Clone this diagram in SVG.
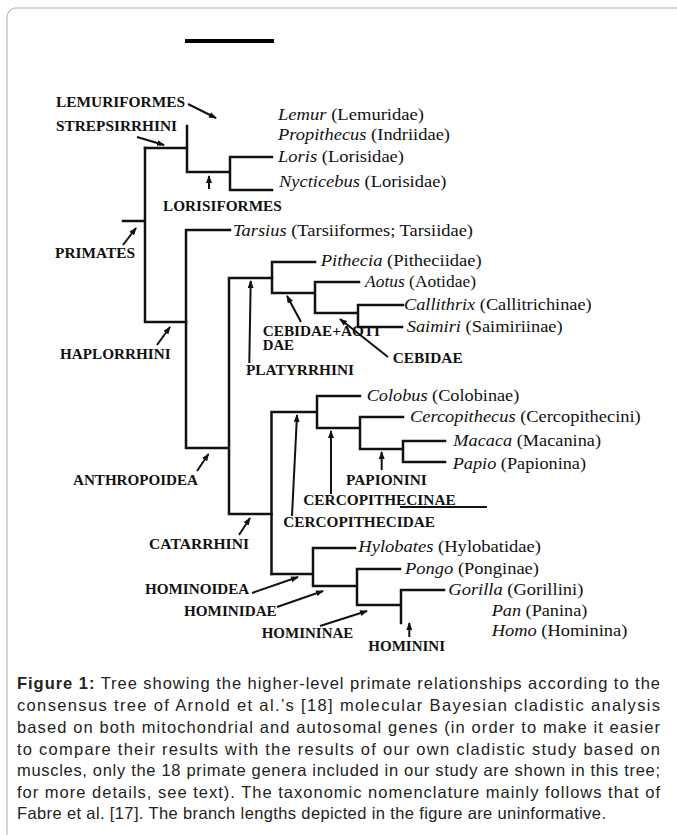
<svg xmlns="http://www.w3.org/2000/svg" width="677" height="835" viewBox="0 0 677 835">
<style>
.frame{fill:#fff;stroke:#c8c8c8;stroke-width:1.5}
.br{fill:none;stroke:#111;stroke-width:2.5;stroke-linecap:square}
.ar{fill:none;stroke:#111;stroke-width:2}
.tx{font-family:"Liberation Serif","Times New Roman",serif;font-size:16.5px;fill:#111}
.lb{font-family:"Liberation Serif","Times New Roman",serif;font-size:14px;font-weight:bold;fill:#111}
.it{font-style:italic}
.cap{font-family:"Liberation Sans",Arial,sans-serif;font-size:16.5px;fill:#222}
</style>
<defs>
<marker id="ah" markerWidth="8" markerHeight="6" refX="7" refY="3" orient="auto" markerUnits="userSpaceOnUse">
<path d="M0,0 L8,3 L0,6 z" fill="#111"/>
</marker>
</defs>
<rect class="frame" x="7" y="8" width="700" height="840" rx="9"/>
<rect x="185" y="39" width="89" height="4" fill="#000"/>
<g id="connectors">
<path class="br" d="M145,148 H187 M187,126 V172 M187,172 H230 M230,157 V190 M230,157 H272 M230,190 H272"/>
<path class="br" d="M123,221 H145 M145,148 V322 M145,322 H186"/>
<path class="br" d="M186,230 V448 M186,230 H230 M186,448 H229 M229,278 V514 M229,278 H272 M229,514 H271.5"/>
<path class="br" d="M272,262 V293 M272,262 H315 M272,293 H315 M315,282 V313 M315,282 H359 M315,313 H358 M358,305 V327 M358,305 H403 M358,327 H402"/>
<path class="br" d="M271.5,412 V574 M271.5,412 H317 M317,396 V428 M317,396 H360 M317,428 H360 M360,417 V449 M360,417 H403 M360,449 H403 M403,441 V462 M403,441 H445 M403,462 H445"/>
<path class="br" d="M271.5,574 H313 M313,548 V586 M313,548 H355 M313,586 H357 M357,569 V605 M357,569 H400 M357,605 H401 M401,590 V623 M401,590 H444"/>
<g marker-end="url(#ah)">
<line class="ar" x1="188" y1="104" x2="216" y2="118"/>
<line class="ar" x1="137" y1="137" x2="164" y2="145"/>
<line class="ar" x1="209" y1="189" x2="209" y2="176"/>
<line class="ar" x1="123" y1="245" x2="136" y2="228"/>
<line class="ar" x1="157" y1="345" x2="170" y2="327"/>
<line class="ar" x1="249.3" y1="363" x2="250.7" y2="281"/>
<line class="ar" x1="301" y1="322" x2="287" y2="296"/>
<line class="ar" x1="388" y1="357" x2="340" y2="319"/>
<line class="ar" x1="197" y1="471" x2="208.5" y2="454"/>
<line class="ar" x1="239" y1="535" x2="250" y2="518"/>
<line class="ar" x1="381.7" y1="470" x2="381.7" y2="452"/>
<line class="ar" x1="331" y1="494" x2="331" y2="431"/>
<line class="ar" x1="292" y1="516" x2="297" y2="415"/>
<line class="ar" x1="252" y1="593" x2="298" y2="577"/>
<line class="ar" x1="277" y1="607" x2="323" y2="591"/>
<line class="ar" x1="320" y1="626" x2="367" y2="611"/>
<line class="ar" x1="409.3" y1="637" x2="409.3" y2="623"/>
</g>
<line class="ar" x1="400" y1="507" x2="487" y2="507"/>
</g>
<g id="lemur"><text class="tx" x="278" y="119.5" textLength="146" lengthAdjust="spacingAndGlyphs"><tspan class="it">Lemur</tspan> (Lemuridae)</text></g>
<g id="propithecus"><text class="tx" x="278" y="139.5" textLength="172" lengthAdjust="spacingAndGlyphs"><tspan class="it">Propithecus</tspan> (Indriidae)</text></g>
<g id="loris"><text class="tx" x="278" y="162" textLength="126" lengthAdjust="spacingAndGlyphs"><tspan class="it">Loris</tspan> (Lorisidae)</text></g>
<g id="nycticebus"><text class="tx" x="279" y="186.5" textLength="167.5" lengthAdjust="spacingAndGlyphs"><tspan class="it">Nycticebus</tspan> (Lorisidae)</text></g>
<g id="tarsius"><text class="tx" x="233" y="236" textLength="240" lengthAdjust="spacingAndGlyphs"><tspan class="it">Tarsius</tspan> (Tarsiiformes; Tarsiidae)</text></g>
<g id="pithecia"><text class="tx" x="320.7" y="266" textLength="161" lengthAdjust="spacingAndGlyphs"><tspan class="it">Pithecia</tspan> (Pitheciidae)</text></g>
<g id="aotus"><text class="tx" x="365" y="287" textLength="111" lengthAdjust="spacingAndGlyphs"><tspan class="it">Aotus</tspan> (Aotidae)</text></g>
<g id="callithrix"><text class="tx" x="404" y="309.5" textLength="187.7" lengthAdjust="spacingAndGlyphs"><tspan class="it">Callithrix</tspan> (Callitrichinae)</text></g>
<g id="saimiri"><text class="tx" x="406.7" y="332" textLength="156" lengthAdjust="spacingAndGlyphs"><tspan class="it">Saimiri</tspan> (Saimiriinae)</text></g>
<g id="colobus"><text class="tx" x="366.7" y="400.5" textLength="152.6" lengthAdjust="spacingAndGlyphs"><tspan class="it">Colobus</tspan> (Colobinae)</text></g>
<g id="cercopithecus"><text class="tx" x="410" y="422" textLength="230.7" lengthAdjust="spacingAndGlyphs"><tspan class="it">Cercopithecus</tspan> (Cercopithecini)</text></g>
<g id="macaca"><text class="tx" x="453.3" y="445.5" textLength="147.7" lengthAdjust="spacingAndGlyphs"><tspan class="it">Macaca</tspan> (Macanina)</text></g>
<g id="papio"><text class="tx" x="452.7" y="468.5" textLength="133.3" lengthAdjust="spacingAndGlyphs"><tspan class="it">Papio</tspan> (Papionina)</text></g>
<g id="hylobates"><text class="tx" x="358.3" y="552" textLength="182.7" lengthAdjust="spacingAndGlyphs"><tspan class="it">Hylobates</tspan> (Hylobatidae)</text></g>
<g id="pongo"><text class="tx" x="405" y="573.5" textLength="134" lengthAdjust="spacingAndGlyphs"><tspan class="it">Pongo</tspan> (Ponginae)</text></g>
<g id="gorilla"><text class="tx" x="448.3" y="594.5" textLength="135" lengthAdjust="spacingAndGlyphs"><tspan class="it">Gorilla</tspan> (Gorillini)</text></g>
<g id="pan"><text class="tx" x="491.7" y="615.5" textLength="95.6" lengthAdjust="spacingAndGlyphs"><tspan class="it">Pan</tspan> (Panina)</text></g>
<g id="homo"><text class="tx" x="491.7" y="635.5" textLength="135.6" lengthAdjust="spacingAndGlyphs"><tspan class="it">Homo</tspan> (Hominina)</text></g>
<g id="lemuriformes"><text class="lb" x="56" y="106.5" textLength="129" lengthAdjust="spacingAndGlyphs">LEMURIFORMES</text></g>
<g id="strepsirrhini"><text class="lb" x="56" y="130.5" textLength="121" lengthAdjust="spacingAndGlyphs">STREPSIRRHINI</text></g>
<g id="lorisiformes"><text class="lb" x="163" y="210.7" textLength="118.7" lengthAdjust="spacingAndGlyphs">LORISIFORMES</text></g>
<g id="primates"><text class="lb" x="55" y="257.7" textLength="80" lengthAdjust="spacingAndGlyphs">PRIMATES</text></g>
<g id="haplorrhini"><text class="lb" x="60" y="358.7" textLength="110.7" lengthAdjust="spacingAndGlyphs">HAPLORRHINI</text></g>
<g id="cebidae-aotidae"><text class="lb" x="262.7" y="336" textLength="117.3" lengthAdjust="spacingAndGlyphs">CEBIDAE+AOTI</text><text class="lb" x="262.7" y="350" textLength="31.3" lengthAdjust="spacingAndGlyphs">DAE</text></g>
<g id="platyrrhini"><text class="lb" x="246" y="374.7" textLength="108" lengthAdjust="spacingAndGlyphs">PLATYRRHINI</text></g>
<g id="cebidae"><text class="lb" x="392.7" y="363" textLength="70" lengthAdjust="spacingAndGlyphs">CEBIDAE</text></g>
<g id="anthropoidea"><text class="lb" x="73" y="484.7" textLength="125" lengthAdjust="spacingAndGlyphs">ANTHROPOIDEA</text></g>
<g id="catarrhini"><text class="lb" x="149" y="548.7" textLength="100" lengthAdjust="spacingAndGlyphs">CATARRHINI</text></g>
<g id="papionini"><text class="lb" x="346" y="484.7" textLength="80.7" lengthAdjust="spacingAndGlyphs">PAPIONINI</text></g>
<g id="cercopithecinae"><text class="lb" x="303.3" y="505.4" textLength="152.4" lengthAdjust="spacingAndGlyphs">CERCOPITHECINAE</text></g>
<g id="cercopithecidae"><text class="lb" x="283.3" y="527.4" textLength="151.7" lengthAdjust="spacingAndGlyphs">CERCOPITHECIDAE</text></g>
<g id="hominoidea"><text class="lb" x="145" y="594" textLength="104.3" lengthAdjust="spacingAndGlyphs">HOMINOIDEA</text></g>
<g id="hominidae"><text class="lb" x="184" y="616.4" textLength="92.7" lengthAdjust="spacingAndGlyphs">HOMINIDAE</text></g>
<g id="homininae"><text class="lb" x="261.7" y="638" textLength="91.6" lengthAdjust="spacingAndGlyphs">HOMININAE</text></g>
<g id="hominini"><text class="lb" x="368.3" y="650.7" textLength="76.7" lengthAdjust="spacingAndGlyphs">HOMININI</text></g>
<g id="caption">
<text class="cap" x="17" y="689" textLength="643" lengthAdjust="spacing"><tspan font-weight="bold">Figure 1:</tspan> Tree showing the higher-level primate relationships according to the</text>
<text class="cap" x="17" y="711" textLength="643" lengthAdjust="spacing">consensus tree of Arnold et al.’s [18] molecular Bayesian cladistic analysis</text>
<text class="cap" x="17" y="733" textLength="643" lengthAdjust="spacing">based on both mitochondrial and autosomal genes (in order to make it easier</text>
<text class="cap" x="17" y="754.5" textLength="643" lengthAdjust="spacing">to compare their results with the results of our own cladistic study based on</text>
<text class="cap" x="17" y="776" textLength="643" lengthAdjust="spacing">muscles, only the 18 primate genera included in our study are shown in this tree;</text>
<text class="cap" x="17" y="797.5" textLength="643" lengthAdjust="spacing">for more details, see text). The taxonomic nomenclature mainly follows that of</text>
<text class="cap" x="17" y="819" textLength="589" lengthAdjust="spacing">Fabre et al. [17]. The branch lengths depicted in the figure are uninformative.</text>
</g>
</svg>
